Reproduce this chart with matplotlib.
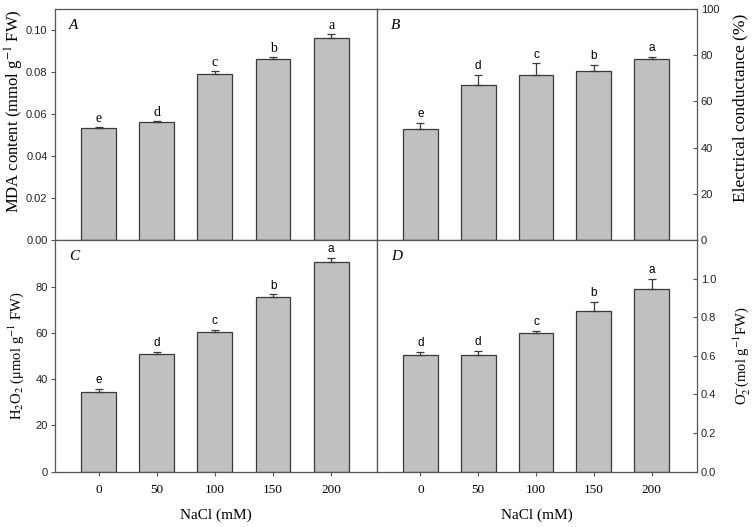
import matplotlib
matplotlib.use("Agg")
import matplotlib.pyplot as plt
import numpy as np

plt.rcParams['mathtext.fontset'] = 'stix'
plt.rcParams['font.family'] = ['Liberation Serif', 'DejaVu Serif']

categories = ['0', '50', '100', '150', '200']
xlabel = 'NaCl (mM)'

mda = [0.0532, 0.0560, 0.0789, 0.0860, 0.0963]
mda_err = [0.0006, 0.0005, 0.0016, 0.0010, 0.0016]
mda_letters = ['e', 'd', 'c', 'b', 'a']

ec = [48.2, 67.0, 71.3, 73.0, 78.4]
ec_err = [2.6, 4.4, 5.2, 2.9, 1.0]
ec_letters = ['e', 'd', 'c', 'b', 'a']

h2o2 = [34.6, 50.8, 60.3, 75.5, 90.5]
h2o2_err = [1.3, 1.0, 1.0, 1.2, 2.0]
h2o2_letters = ['e', 'd', 'c', 'b', 'a']

o2 = [0.602, 0.602, 0.718, 0.834, 0.947]
o2_err = [0.020, 0.022, 0.010, 0.045, 0.050]
o2_letters = ['d', 'd', 'c', 'b', 'a']

W, H = 756, 527
fig = plt.figure(figsize=(W / 100, H / 100), dpi=100)

x0, xm, x1 = 54.5, 376.5, 696.7
y0, ym, y1 = 9, 240, 471.7

def rect(l, t, r, b):
    return [l / W, 1 - b / H, (r - l) / W, (b - t) / H]

axA = fig.add_axes(rect(x0, y0, xm, ym))
axB = fig.add_axes(rect(xm, y0, x1, ym))
axC = fig.add_axes(rect(x0, ym, xm, y1))
axD = fig.add_axes(rect(xm, ym, x1, y1))

bar_color = '#c0c0c0'
edge_color = '#3a3a3a'
spine_color = '#555555'
xpos = np.arange(len(categories))

def panel(ax, vals, errs, letters, ylim, yticks, ticklabels, side, ylabel, tag,
          letter_serif, label_size, label_y):
    ax.bar(xpos, vals, width=0.6, color=bar_color, edgecolor=edge_color, linewidth=0.9, zorder=2)
    ax.errorbar(xpos, vals, yerr=[np.zeros(len(vals)), errs], fmt='none',
                ecolor=edge_color, elinewidth=0.9, capsize=2.6, capthick=0.9, zorder=3)
    for xi, v, e, lt in zip(xpos, vals, errs, letters):
        if letter_serif:
            ax.annotate(lt, (xi, v + e), xytext=(0, 1.5), textcoords='offset points',
                        ha='center', va='bottom', fontsize=10, family='Liberation Serif')
        else:
            ax.annotate(lt, (xi, v + e), xytext=(0, 2), textcoords='offset points',
                        ha='center', va='bottom', fontsize=8.5, family='Liberation Sans')
    ax.set_xlim(-0.76, 4.78)
    ax.set_ylim(*ylim)
    ax.set_yticks(yticks)
    ax.set_yticklabels(ticklabels, fontsize=8, family='Liberation Sans', color='#222222')
    for s in ax.spines.values():
        s.set_color(spine_color)
        s.set_linewidth(0.9)
    if side == 'left':
        ax.tick_params(axis='y', direction='out', length=3, width=0.8, color=spine_color, pad=2)
        ax.set_ylabel(ylabel, fontsize=label_size)
        ax.yaxis.set_label_coords(-0.087, label_y)
    else:
        ax.yaxis.tick_right()
        ax.yaxis.set_label_position('right')
        ax.tick_params(axis='y', direction='in', length=3, width=0.8, color=spine_color, pad=3,
                       left=False, right=True)
        ax.set_ylabel(ylabel, fontsize=label_size)
        ax.yaxis.set_label_coords(1.11, label_y)
    ax.text(0.045, 0.955, tag, transform=ax.transAxes, fontsize=11, style='italic',
            ha='left', va='top')

panel(axA, mda, mda_err, mda_letters, (0, 0.11), [0, 0.02, 0.04, 0.06, 0.08, 0.10],
      ['0.00', '0.02', '0.04', '0.06', '0.08', '0.10'], 'left',
      r'MDA content (mmol g$^{-1}$ FW)', 'A', True, 12, 0.556)
panel(axB, ec, ec_err, ec_letters, (0, 100), [0, 20, 40, 60, 80, 100],
      ['0', '20', '40', '60', '80', '100'], 'right',
      'Electrical conductance (%)', 'B', False, 12.5, 0.571)
panel(axC, h2o2, h2o2_err, h2o2_letters, (0, 100.2), [0, 20, 40, 60, 80],
      ['0', '20', '40', '60', '80'], 'left',
      r'H$_2$O$_2$ (μmol g$^{-1}$ FW)', 'C', False, 10.5, 0.5)
panel(axD, o2, o2_err, o2_letters, (0, 1.2), [0, 0.2, 0.4, 0.6, 0.8, 1.0],
      ['0.0', '0.2', '0.4', '0.6', '0.8', '1.0'], 'right',
      r'O$_2^{-}$(mol g$^{-1}$FW)', 'D', False, 10.5, 0.5)

for ax in (axA, axB):
    ax.set_xticks([])
for ax in (axC, axD):
    ax.set_xticks(xpos)
    ax.set_xticklabels(categories, fontsize=9.5, family='Liberation Serif')
    ax.tick_params(axis='x', direction='out', length=3, width=0.8, color=spine_color, pad=6)
    ax.set_xlabel(xlabel, fontsize=11, labelpad=9)

fig.savefig('out.png', dpi=100)
